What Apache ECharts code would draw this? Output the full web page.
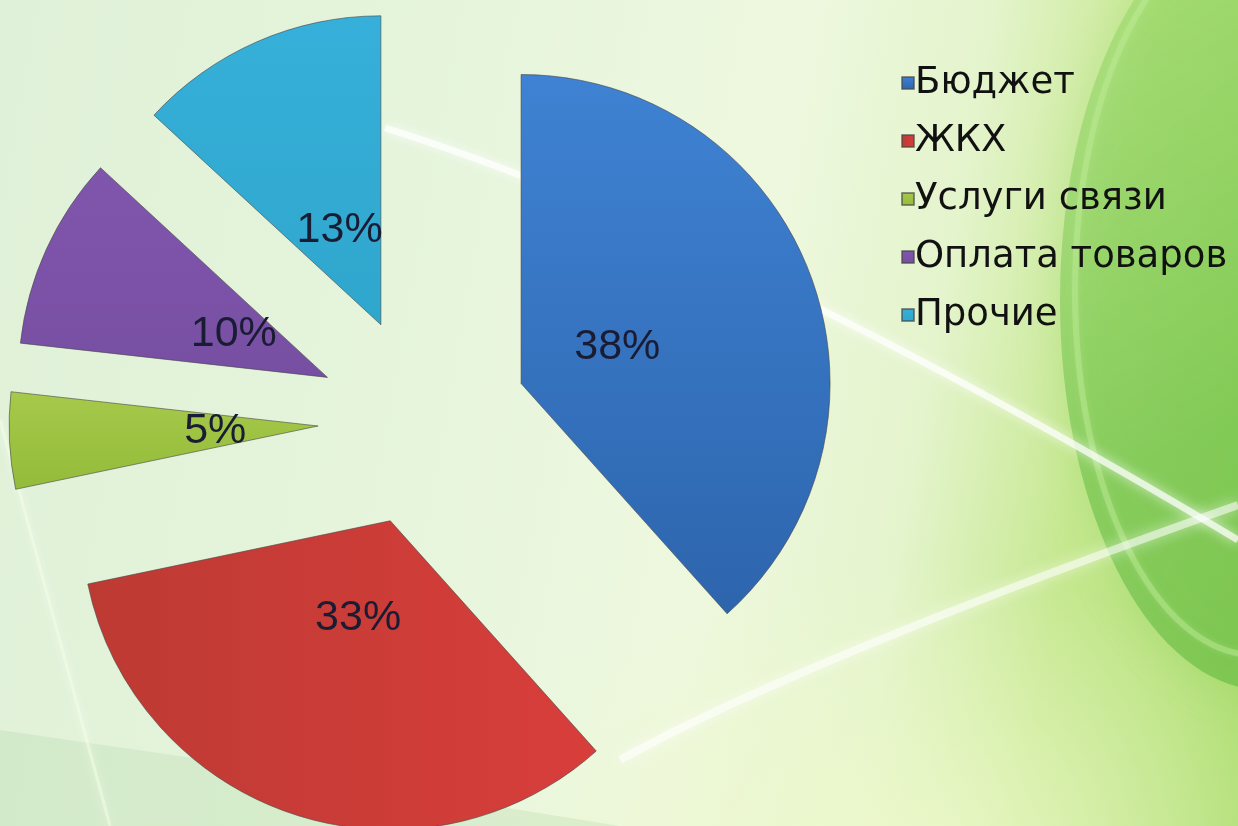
<!DOCTYPE html>
<html>
<head>
<meta charset="utf-8">
<script src="https://cdn.jsdelivr.net/npm/echarts@6/dist/echarts.min.js"></script>
<style>
	html, body {
		margin: 0;
		padding: 0;
		width: 1238px;
		height: 826px;
		overflow: hidden;
	}
	body {
		background:
			radial-gradient(ellipse 420px 300px at 900px 860px, rgba(238,249,205,0.9) 0%, rgba(238,249,205,0) 100%),
			linear-gradient(100deg, #dff1d8 0%, #e6f5dc 35%, #eef8df 58%, #e4f4cc 72%, #c6e890 84%, #addd70 100%);
	}
	#chart {
		width: 1238px;
		height: 826px;
	}
</style>
</head>
<body>
<div id="chart"></div>
<script>
	// данные диаграммы
	var names = ['Бюджет', 'ЖКХ', 'Услуги связи', 'Оплата товаров', 'Прочие'];
	var values = [38, 33, 5, 10, 13];
	var colors = [
		['#3f82d3', '#2d65ad'],
		['#bd3a33', '#d83e3b'],
		['#a6c94a', '#94bb3a'],
		['#8056ad', '#774fa2'],
		['#36b0da', '#2fa6cc']
	];

	function grad(c, vertical) {
		return new echarts.graphic.LinearGradient(0, 0, vertical ? 0 : 1, vertical ? 1 : 0, [
			{ offset: 0, color: c[0] },
			{ offset: 1, color: c[1] }
		]);
	}

	var pieData = names.map(function (n, i) {
		return {
			name: n,
			value: values[i],
			selected: true,
			itemStyle: { color: grad(colors[i], i !== 1) }
		};
	});
	var labelData = names.map(function (n, i) {
		return { name: n, value: values[i], selected: true };
	});

	var myChart = echarts.init(document.getElementById('chart'));
	myChart.setOption({
		animation: false,
		color: colors.map(function (c) { return c[0]; }),
		// фон слайда
		graphic: [
			{ type: 'polygon', silent: true, z: -20,
			  shape: { points: [[0, 730], [220, 762], [620, 826], [0, 826]] },
			  style: { fill: 'rgba(185,222,175,0.35)' } },
			{ type: 'ellipse', silent: true, z: -15,
			  shape: { cx: 1265, cy: 300, rx: 205, ry: 390 },
			  style: {
				  fill: new echarts.graphic.LinearGradient(0, 0, 1, 1, [
					  { offset: 0, color: 'rgba(150,215,100,0.45)' },
					  { offset: 0.6, color: 'rgba(105,190,70,0.6)' },
					  { offset: 1, color: 'rgba(95,180,60,0.6)' }
				  ]),
				  shadowBlur: 40, shadowColor: 'rgba(140,210,90,0.5)'
			  } },
			{ type: 'ellipse', silent: true, z: -14,
			  shape: { cx: 1255, cy: 290, rx: 180, ry: 365 },
			  style: { fill: null, stroke: 'rgba(190,235,150,0.45)', lineWidth: 6, shadowBlur: 6, shadowColor: 'rgba(190,235,150,0.6)' } },
			{ type: 'bezierCurve', silent: true, z: -10,
			  shape: { x1: 385, y1: 128, cpx1: 729, cpy1: 235, x2: 1238, y2: 540 },
			  style: { fill: null, stroke: 'rgba(255,255,255,0.7)', lineWidth: 7, shadowBlur: 12, shadowColor: '#ffffff' } },
			{ type: 'bezierCurve', silent: true, z: -10,
			  shape: { x1: 620, y1: 760, cpx1: 800, cpy1: 660, x2: 1238, y2: 505 },
			  style: { fill: null, stroke: 'rgba(255,255,255,0.55)', lineWidth: 8, shadowBlur: 14, shadowColor: '#ffffff' } },
			{ type: 'line', silent: true, z: -10,
			  shape: { x1: 0, y1: 420, x2: 110, y2: 826 },
			  style: { stroke: 'rgba(245,255,225,0.5)', lineWidth: 3, shadowBlur: 8, shadowColor: '#ffffff' } }
		],
		legend: {
			orient: 'vertical',
			left: 896,
			top: 58,
			icon: 'rect',
			itemWidth: 12,
			itemHeight: 12,
			itemGap: 18,
			selectedMode: false,
			data: names,
			textStyle: {
				fontFamily: 'DejaVu Sans',
				fontSize: 37,
				lineHeight: 40,
				color: '#111111',
				padding: [0, 0, 0, -4]
			}
		},
		series: [
			{
				name: 'main',
				type: 'pie',
				center: [423, 421],
				radius: 309,
				startAngle: 90,
				selectedMode: 'multiple',
				selectedOffset: 105,
				silent: true,
				label: { show: false },
				labelLine: { show: false },
				emphasis: { disabled: true },
				itemStyle: { borderColor: 'rgba(70,70,70,0.6)', borderWidth: 1 },
				data: pieData
			},
			{
				name: 'labels',
				type: 'pie',
				center: [423, 421],
				radius: 200,
				startAngle: 90,
				selectedMode: 'multiple',
				selectedOffset: 105,
				silent: true,
				emphasis: { disabled: true },
				itemStyle: { color: 'rgba(0,0,0,0)', borderWidth: 0 },
				labelLine: { show: false },
				label: {
					show: true,
					position: 'inside',
					formatter: '{c}%',
					fontFamily: '"Liberation Sans", sans-serif',
					fontSize: 43,
					color: '#1a1c34'
				},
				data: labelData
			}
		]
	});
</script>
</body>
</html>
